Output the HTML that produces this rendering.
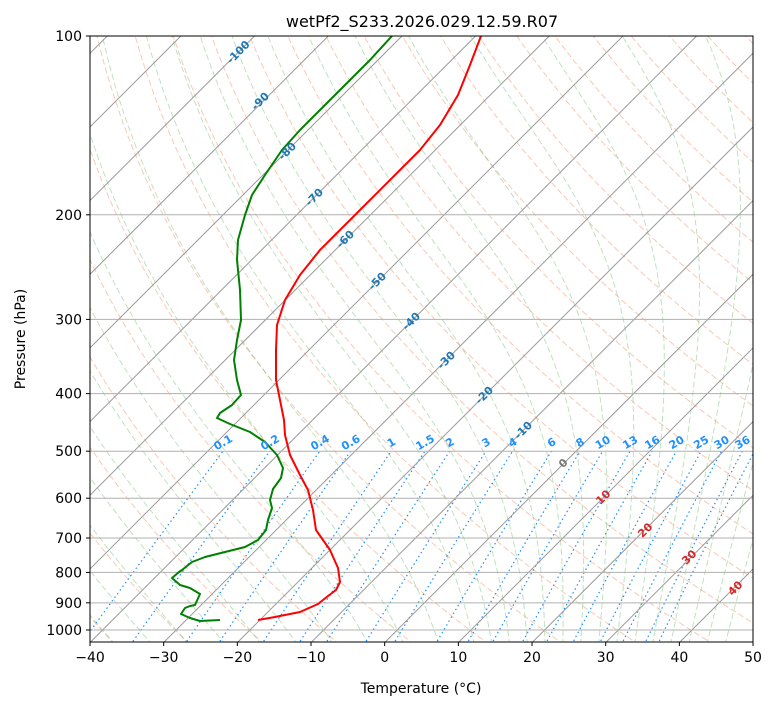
<!DOCTYPE html>
<html><head><meta charset="utf-8"><style>
body{margin:0;background:#fff;}
svg text{font-family:"DejaVu Sans","Liberation Sans",sans-serif;}
</style></head><body>
<svg id="s" width="775" height="708" xmlns="http://www.w3.org/2000/svg">
<defs><clipPath id="c"><rect x="90" y="36" width="663" height="606"/></clipPath></defs>
<rect width="775" height="708" fill="#fff"/>
<g id="bg" clip-path="url(#c)"></g>
<g clip-path="url(#c)" fill="none" stroke-width="2" stroke-linejoin="round">
<polyline stroke="#ff0000" points="481,36 470,65 458,95 440,125 420,150 395,175 370,200 345,225 320,250 300,275 285,300 277,325 276,350 276,380 280,400 284,420 285,435 290,455 300,475 308,490 313,510 316,530 330,550 338,568 340,582 336,590 328,596 318,604 300,612 275,617 258,620"/>
<polyline stroke="#008000" points="392,36 370,60 345,85 320,110 300,130 282,150 265,175 252,195 245,215 238,240 237,260 240,290 241,320 237,340 234,360 237,380 241,395 232,405 220,413 217,418 230,424 250,432 265,442 277,455 283,468 281,478 273,489 270,500 272,508 268,520 266,530 258,540 245,547 225,552 205,557 192,562 182,570 179,572 172,578 180,585 190,588 200,594 195,605 190,606 185,608 181,614 190,618 200,621 220,620"/>
</g>
<g id="lab"></g>
<rect x="90" y="36" width="663" height="606" fill="none" stroke="#000" stroke-width="1"/>
<g id="ax" font-size="14" fill="#000"></g>
<text x="422" y="27" text-anchor="middle" font-size="16">wetPf2_S233.2026.029.12.59.R07</text>
<text x="421" y="693" text-anchor="middle" font-size="14">Temperature (°C)</text>
<text transform="translate(25,339) rotate(-90)" text-anchor="middle" font-size="14">Pressure (hPa)</text>
</svg>
<script>
var NS="http://www.w3.org/2000/svg";
function Y(p){return 36+594*Math.log10(p/100);}
function X(T,p){return 90+(T+40)*7.367+(642.6-Y(p));}
var bg=document.getElementById('bg'),ax=document.getElementById('ax'),lab=document.getElementById('lab');
function el(par,tag,a,txt){var e=document.createElementNS(NS,tag);for(var k in a)e.setAttribute(k,a[k]);if(txt!=null)e.textContent=txt;par.appendChild(e);return e;}
function path(pts,a){var d="M"+pts.map(function(q){return q[0].toFixed(1)+","+q[1].toFixed(1)}).join("L");a.d=d;a.fill="none";el(bg,'path',a);}
var ps=[];for(var p=1060;p>=95;p-=5)ps.push(p);
for(var th=233;th<=483;th+=10){path(ps.map(function(p){return [X(th*Math.pow(p/1000,0.2857)-273.15,p),Y(p)]}),{stroke:"#f4a582","stroke-opacity":0.6,"stroke-width":1,"stroke-dasharray":"6,3"});}
function es(T){return 6.112*Math.exp(17.67*T/(T+243.5));}
function dTdp(Tk,p){var rs=0.622*es(Tk-273.15)/(p-es(Tk-273.15));var Rd=287,Lv=2.5e6,Cp=1005;return (1/p)*(Rd*Tk+Lv*rs)/(Cp+Lv*Lv*rs*0.622/(Rd*Tk*Tk));}
var m0=[];for(var t=-50;t<=10;t+=5)m0.push(t);for(var t=12.5;t<=45;t+=2.5)m0.push(t);
m0.forEach(function(t0){var pts=[];var T=t0+273.15;for(var p=1000;p>=100;p-=5){pts.push([X(T-273.15,p),Y(p)]);T-=dTdp(T,p)*5;}
var T2=t0+273.15,lo=[];for(var p=1000;p<=1060;p+=5){lo.push([X(T2-273.15,p),Y(p)]);T2+=dTdp(T2,p)*5;}
path(lo.reverse().concat(pts),{stroke:"#2ca02c","stroke-opacity":0.3,"stroke-width":1,"stroke-dasharray":"6,3"});});
var ws=[0.1,0.2,0.4,0.6,1,1.5,2,3,4,6,8,10,13,16,20,25,30,36,40];
ws.forEach(function(w){var pts=[];for(var p=1060;p>=500;p-=10){var e=p*w/(622+w);var l=Math.log(e/6.112);var Td=243.5*l/(17.67-l);pts.push([X(Td,p),Y(p)]);}
path(pts,{stroke:"#1e90ff","stroke-width":1.2,"stroke-dasharray":"1.5,3"});
if(w<=36){var q=pts[pts.length-1];el(lab,'text',{x:q[0],y:q[1]-5,"font-size":11,"font-weight":"bold",fill:"#1e90ff","text-anchor":"middle",transform:"rotate(-30 "+q[0]+" "+(q[1]-9)+")"},String(w));}});
for(var T=-130;T<=50;T+=10){path([[X(T,1060),Y(1060)],[X(T,95),Y(95)]],{stroke:"#999","stroke-width":1});}
for(var p=100;p<=1000;p+=100){var y=Y(p);el(bg,'line',{x1:90,x2:753,y1:y,y2:y,stroke:"#b0b0b0","stroke-width":1});
el(ax,'line',{x1:86,x2:90,y1:y,y2:y,stroke:"#000"});el(ax,'text',{x:82,y:y+5,"text-anchor":"end"},String(p));}
for(var T=-40;T<=50;T+=10){var x=90+(T+40)*7.367;el(ax,'line',{x1:x,x2:x,y1:642,y2:646,stroke:"#000"});el(ax,'text',{x:x,y:662,"text-anchor":"middle"},T<0?"\u2212"+(-T):String(T));}
var L=[[-100,238,52],[-90,260,101],[-80,287,151],[-70,314,197],[-60,345,239],[-50,377,281],[-40,411,321],[-30,446,360],[-20,484,395],[-10,523,430]];
L.forEach(function(a){el(lab,'text',{x:a[1],y:a[2]+4,"font-size":11,"font-weight":"bold",fill:"#1f77b4","text-anchor":"middle",transform:"rotate(-45 "+a[1]+" "+a[2]+")"},String(a[0]));});
var L2=[[0,563,463,"#777"],[10,603,497,"#d62728"],[20,645,530,"#d62728"],[30,689,557,"#d62728"],[40,735,588,"#d62728"]];
L2.forEach(function(a){el(lab,'text',{x:a[1],y:a[2]+4,"font-size":11,"font-weight":"bold",fill:a[3],"text-anchor":"middle",transform:"rotate(-45 "+a[1]+" "+a[2]+")"},String(a[0]));});
</script>
</body></html>
